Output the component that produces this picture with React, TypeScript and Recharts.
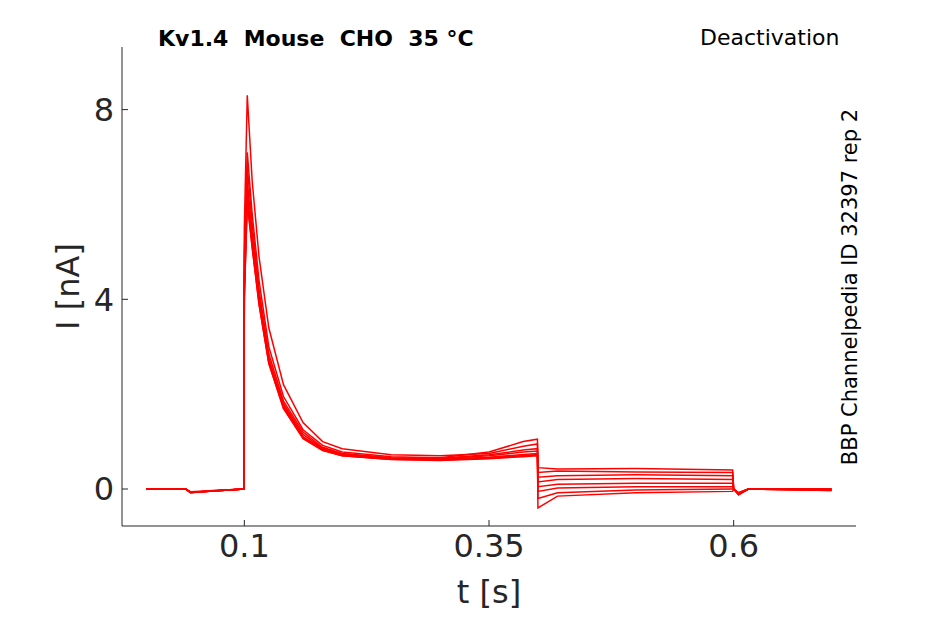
import { LineChart, Line, XAxis, YAxis, Label } from "recharts"

const times = [0, 0.04, 0.045, 0.06, 0.0995, 0.1, 0.103, 0.108, 0.115, 0.125, 0.14, 0.16, 0.18, 0.2, 0.25, 0.3, 0.35, 0.385, 0.3995, 0.4, 0.42, 0.5, 0.599, 0.6, 0.605, 0.615, 0.7]

const trace1 = [0, 0, -0.08, -0.05, 0, 5.5, 8.3, 6.5, 4.9, 3.4, 2.2, 1.4, 1.0, 0.85, 0.72, 0.7, 0.75, 0.9, 0.95, 0.45, 0.42, 0.43, 0.4, 0, -0.1, 0, -0.02]
const trace2 = [0, 0, -0.06, -0.04, 0, 5.0, 7.1, 5.8, 4.4, 3.0, 1.95, 1.25, 0.92, 0.78, 0.68, 0.66, 0.78, 1.0, 1.05, 0.35, 0.38, 0.36, 0.35, 0, -0.08, 0, 0]
const trace3 = [0, 0, -0.07, -0.05, 0, 4.8, 6.8, 5.6, 4.2, 2.85, 1.85, 1.2, 0.88, 0.75, 0.66, 0.65, 0.72, 0.82, 0.85, 0.25, 0.28, 0.3, 0.28, 0, -0.1, 0, -0.03]
const trace4 = [0, 0, -0.06, -0.05, 0, 4.5, 6.5, 5.4, 4.1, 2.75, 1.8, 1.15, 0.86, 0.74, 0.65, 0.64, 0.7, 0.78, 0.8, 0.15, 0.2, 0.22, 0.2, 0, -0.12, 0, 0]
const trace5 = [0, 0, -0.08, -0.04, 0, 4.3, 6.2, 5.2, 4.0, 2.7, 1.75, 1.1, 0.84, 0.72, 0.64, 0.62, 0.67, 0.73, 0.75, 0.05, 0.1, 0.12, 0.12, 0, -0.1, 0, -0.02]
const trace6 = [0, 0, -0.07, -0.05, 0, 4.1, 6.0, 5.1, 3.9, 2.65, 1.7, 1.08, 0.82, 0.7, 0.63, 0.62, 0.66, 0.7, 0.72, -0.05, 0.02, 0.05, 0.05, 0, -0.08, 0, 0]
const trace7 = [0, 0, -0.06, -0.05, 0, 4.0, 6.1, 5.1, 3.9, 2.65, 1.7, 1.06, 0.81, 0.7, 0.62, 0.6, 0.64, 0.68, 0.7, -0.2, -0.08, -0.02, 0, 0, -0.1, 0, -0.03]
const trace8 = [0, 0, -0.08, -0.05, 0, 4.2, 6.3, 5.2, 4.0, 2.7, 1.75, 1.1, 0.83, 0.71, 0.63, 0.61, 0.65, 0.7, 0.72, -0.4, -0.15, -0.08, -0.05, 0, -0.12, 0, 0]

const traces = [trace1, trace2, trace3, trace4, trace5, trace6, trace7, trace8]

const xTicks = [0.1, 0.35, 0.6]
const yTicks = [0, 4, 8]

const ink = "#262626"
const font = "DejaVu Sans, sans-serif"

export default function App() {
  return (
    <div style={{ position: "absolute", left: 0, top: 0, width: 945, height: 624, background: "#fff", fontFamily: font }}>
      <LineChart width={945} height={624} margin={{ top: 47, right: 89, left: 62, bottom: 38 }}>
        <XAxis
          type="number"
          dataKey="t"
          domain={[-0.025, 0.725]}
          ticks={xTicks}
          allowDataOverflow
          stroke={ink}
          tick={{ fill: ink, fontSize: 32, fontFamily: font }}
          tickSize={-6}
          tickMargin={14}
          height={60}
        >
          <Label value="t [s]" position="bottom" offset={0} dy={-6} style={{ fill: ink, fontSize: 32, fontFamily: font }} />
        </XAxis>
        <YAxis
          type="number"
          domain={[-0.78, 9.32]}
          ticks={yTicks}
          allowDataOverflow
          stroke={ink}
          tick={{ fill: ink, fontSize: 32, fontFamily: font }}
          tickSize={-6}
          tickMargin={14}
          width={60}
        >
          <Label value="I [nA]" angle={-90} position="left" offset={0} dx={6} style={{ fill: ink, fontSize: 32, fontFamily: font, textAnchor: "middle" }} />
        </YAxis>
        {traces.map((tr, i) => (
          <Line
            key={i}
            data={times.map((t, j) => ({ t, v: tr[j] }))}
            dataKey="v"
            type="linear"
            stroke="#ff0000"
            strokeWidth={1.5}
            dot={false}
            isAnimationActive={false}
          />
        ))}
      </LineChart>
      <div style={{ position: "absolute", left: 158, top: 26, fontSize: 22, fontWeight: "bold", color: "#000", whiteSpace: "pre" }}>
        {"Kv1.4  Mouse  CHO  35 °C"}
      </div>
      <div style={{ position: "absolute", left: 700, top: 25, fontSize: 22, color: "#000" }}>Deactivation</div>
      <div
        style={{
          position: "absolute",
          left: 850,
          top: 287,
          fontSize: 21,
          color: "#000",
          whiteSpace: "nowrap",
          transform: "translate(-50%, -50%) rotate(-90deg)",
        }}
      >
        BBP Channelpedia ID 32397 rep 2
      </div>
    </div>
  )
}
